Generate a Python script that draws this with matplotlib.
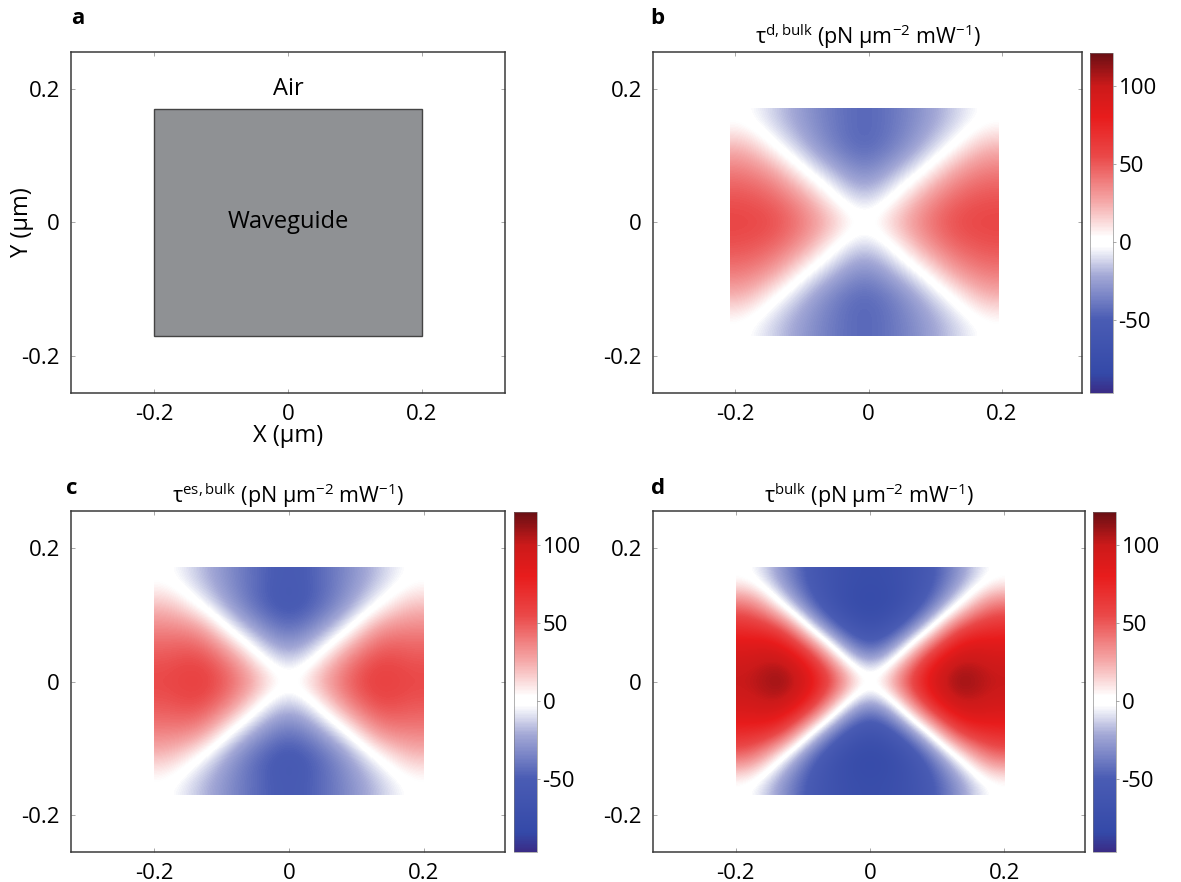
import numpy as np
import matplotlib
matplotlib.use("Agg")
import matplotlib.pyplot as plt
from matplotlib.colors import LinearSegmentedColormap

plt.rcParams['font.family'] = ['Open Sans', 'DejaVu Sans']
plt.rcParams['mathtext.fontset'] = 'custom'
plt.rcParams['mathtext.rm'] = 'Open Sans'
plt.rcParams['mathtext.it'] = 'Open Sans:italic'

# waveguide cross-section (um)
wg_x = [-0.2, 0.2]
wg_y = [-0.17, 0.17]

# axis ticks
ax_ticks = [-0.2, 0, 0.2]
ax_ticklabels = ['-0.2', '0', '0.2']
cb_ticks = [-50, 0, 50, 100]
cb_ticklabels = ['-50', '0', '50', '100']
vmin, vmax = -97, 121

# torque density, one quadrant (x >= 0, y >= 0)
# rows: y = 0, 0.0425, 0.085, 0.1275, 0.17 ; cols: x = 0, 0.05, 0.1, 0.15, 0.2
tau_d_quad = [
    [0, 20, 40, 55, 57],
    [-18, 0, 28, 46, 52],
    [-36, -20, 0, 28, 40],
    [-48, -38, -20, 0, 22],
    [-47, -40, -28, -14, 0],
]
tau_es_quad = [
    [0, 25, 50, 63, 56],
    [-22, 0, 36, 56, 50],
    [-44, -27, 0, 36, 38],
    [-58, -47, -26, 0, 20],
    [-55, -46, -32, -16, 0],
]
tau_bulk_quad = [
    [0, 48, 95, 118, 102],
    [-42, 0, 70, 104, 94],
    [-72, -50, 0, 66, 74],
    [-84, -76, -46, 0, 44],
    [-78, -72, -56, -28, 0],
]


def full_field(quad):
    # the field is mirror-symmetric about both axes
    q = np.array(quad, dtype=float)
    top = np.hstack([np.fliplr(q[:, 1:]), q])
    return np.vstack([np.flipud(top[1:]), top])


def pos(v):
    return (v - vmin) / (vmax - vmin)


cmap = LinearSegmentedColormap.from_list('torque', [
    (0.00, '#3a2c86'),
    (pos(-85), '#3449a8'),
    (pos(-50), '#4a5cb4'),
    (pos(-22), '#a3a8d6'),
    (pos(-3), '#ffffff'),
    (pos(3), '#ffffff'),
    (pos(25), '#f5aaaa'),
    (pos(55), '#ea4848'),
    (pos(80), '#e81c1c'),
    (pos(100), '#cc1a1a'),
    (1.00, '#6a0f14'),
])

W, H = 1181, 882
fig = plt.figure(figsize=(W / 100, H / 100), dpi=100)


def px_axes(x0, y0, x1, y1):
    return fig.add_axes([x0 / W, 1 - y1 / H, (x1 - x0) / W, (y1 - y0) / H])


def px_text(x, y, s, **kw):
    return fig.text(x / W, 1 - y / H, s, ha='center', va='center', **kw)


def style_axes(ax, xlim):
    ax.set_xlim(*xlim)
    ax.set_ylim(-0.255, 0.255)
    ax.set_xticks(ax_ticks, ax_ticklabels)
    ax.set_yticks(ax_ticks, ax_ticklabels)
    ax.tick_params(direction='in', length=3, width=0.6, color='#999999',
                   top=True, right=True, labelsize=16, pad=8)
    for s in ax.spines.values():
        s.set_color('#3a3a3a')
        s.set_linewidth(1.1)


def add_colorbar(im, x0, y0, x1, y1):
    cax = px_axes(x0, y0, x1, y1)
    cb = fig.colorbar(im, cax=cax)
    cb.set_ticks(cb_ticks, labels=cb_ticklabels)
    cb.ax.tick_params(length=2, width=0.6, color='#999999', labelsize=16, pad=2)
    cb.outline.set_linewidth(0.4)
    cb.outline.set_edgecolor('#777777')


title_units = r' (pN μm$^{\mathrm{-2}}$ mW$^{\mathrm{-1}}$)'

# a: geometry
ax_a = px_axes(71, 52, 505, 393)
style_axes(ax_a, (-0.325, 0.325))
ax_a.add_patch(plt.Rectangle((wg_x[0], wg_y[0]), wg_x[1] - wg_x[0], wg_y[1] - wg_y[0],
                             facecolor='#8f9194', edgecolor='#444444', linewidth=1.0))
ax_a.text(0, 0.2, 'Air', ha='center', va='center', fontsize=17)
ax_a.text(0, 0.0, 'Waveguide', ha='center', va='center', fontsize=17)
px_text(288, 436, 'X (μm)', fontsize=17)
px_text(22, 222, 'Y (μm)', fontsize=17, rotation=90)

panels = [
    ('b', tau_d_quad, r'τ$^{\mathrm{d,bulk}}$', (653, 52, 1082, 393), (1090, 53, 1113, 393), (-0.208, 0.195)),
    ('c', tau_es_quad, r'τ$^{\mathrm{es,bulk}}$', (71, 511, 505, 852), (514, 512, 537, 852), (-0.2, 0.2)),
    ('d', tau_bulk_quad, r'τ$^{\mathrm{bulk}}$', (653, 511, 1085, 852), (1093, 512, 1116, 852), (-0.2, 0.2)),
]

for letter, quad, name, box, cbox, xext in panels:
    ax = px_axes(*box)
    style_axes(ax, (-0.323, 0.32))
    im = ax.imshow(full_field(quad), extent=(xext[0], xext[1], wg_y[0], wg_y[1]),
                   origin='lower', cmap=cmap, vmin=vmin, vmax=vmax,
                   interpolation='bicubic', aspect='auto')
    ax.set_title(name + title_units, fontsize=15.5, pad=6)
    add_colorbar(im, *cbox)

# panel letters
for letter, (x, y) in zip('abcd', [(78, 18), (657, 18), (72, 488), (658, 488)]):
    px_text(x, y, letter, fontsize=16, fontweight='bold')

fig.savefig('out.png', dpi=100)
